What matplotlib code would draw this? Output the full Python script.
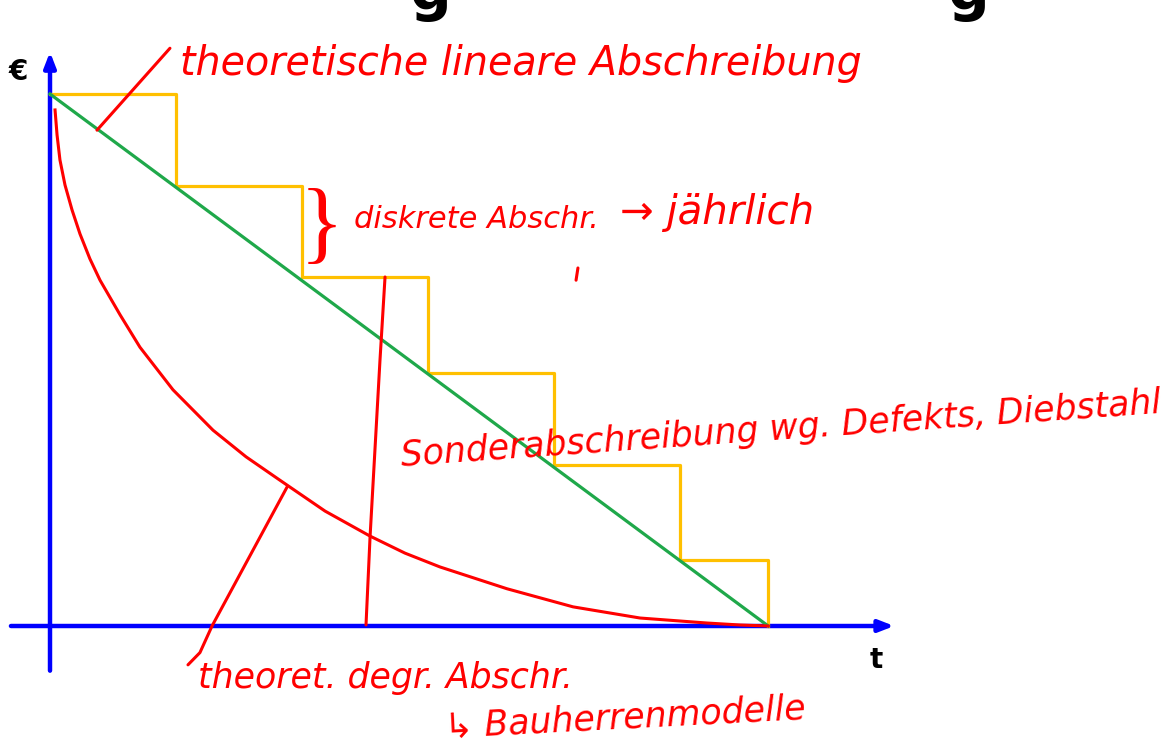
import matplotlib
matplotlib.use('Agg')
import matplotlib.pyplot as plt
import numpy as np

# Abschreibung: book value over time (years), value in % of purchase price
stair_t = [0, 1, 2, 3, 4, 5, 5.7]
stair_v = [100, 82.7, 65.6, 47.6, 30.3, 12.4, 0]

linear_t = [0, 5.7]
linear_v = [100, 0]

# theoretical degressive depreciation
degr_t = [0.040, 0.056, 0.079, 0.119, 0.175, 0.238, 0.317, 0.397, 0.556, 0.714, 0.976, 1.294,
          1.556, 1.825, 2.183, 2.540, 2.817, 3.095, 3.627, 4.151, 4.683, 5.214, 5.476, 5.700]
degr_v = [97.0, 92.3, 87.6, 82.9, 78.2, 73.7, 69.0, 65.0, 58.5, 52.4, 44.4, 36.8,
          31.8, 27.4, 21.6, 16.9, 13.7, 11.1, 7.0, 3.6, 1.5, 0.56, 0.19, 0.0]

# hand-drawn leader strokes (data coords)
lead_top_t = [0.373, 0.952]
lead_top_v = [93.2, 108.6]
lead_sonder_t = [2.659, 2.619, 2.540, 2.508]
lead_sonder_v = [65.6, 50.0, 16.7, 0.2]
lead_degr_t = [1.881, 1.286, 1.190, 1.095]
lead_degr_v = [26.1, 0.0, -5.0, -7.3]
tick_t = [4.19, 4.175]
tick_v = [67.3, 65.0]

W, H = 1166, 751
fig = plt.figure(figsize=(W / 100, H / 100), dpi=100)
ax = fig.add_axes([0, 0, 1, 1])
# map: t=0 -> x px 50, 1 year = 126 px ; v=0 -> y px 626, 1 unit = 5.32 px
ax.set_xlim(-50 / 126, (W - 50) / 126)
ax.set_ylim((626 - H) / 5.32, 626 / 5.32)
ax.axis('off')

def fx(x):
    return x / W

def fy(y):
    return 1 - y / H

RED = '#ff0000'
BLUE = '#0000ff'

# coordinate axes
ax.annotate('', xy=(6.70, 0), xytext=(-0.31, 0),
            arrowprops=dict(arrowstyle='-|>,head_length=0.9,head_width=0.35', color=BLUE, lw=3.2, shrinkA=0, shrinkB=0))
ax.annotate('', xy=(0, 107.9), xytext=(0, -8.4),
            arrowprops=dict(arrowstyle='-|>,head_length=0.9,head_width=0.35', color=BLUE, lw=3.2, shrinkA=0, shrinkB=0))
fig.text(fx(18), fy(72), '€', fontsize=20, fontweight='bold', ha='center', va='center')
fig.text(fx(876), fy(660), 't', fontsize=20, fontweight='bold', ha='center', va='center')

# curves
ax.step(stair_t, stair_v, where='post', color='#ffc000', lw=2.3, solid_joinstyle='round', zorder=3)
ax.plot(linear_t, linear_v, color='#1fa84a', lw=2.3, zorder=4)
ax.plot(degr_t, degr_v, color=RED, lw=2.2, solid_joinstyle='round', zorder=4)

# handwriting strokes
for tt, vv in [(lead_top_t, lead_top_v), (lead_sonder_t, lead_sonder_v),
               (lead_degr_t, lead_degr_v), (tick_t, tick_v)]:
    ax.plot(tt, vv, color=RED, lw=2.2, solid_capstyle='round', solid_joinstyle='round', zorder=5)

hand = dict(color=RED, fontstyle='italic', family='DejaVu Sans')
fig.text(fx(180), fy(75), 'theoretische lineare Abschreibung', fontsize=28.5, ha='left', va='baseline', **hand)
fig.text(fx(322), fy(230), '}', fontsize=66, ha='center', va='center', color=RED, family='Liberation Serif')
fig.text(fx(354), fy(228), 'diskrete Abschr.', fontsize=22, ha='left', va='baseline', **hand)
fig.text(fx(620), fy(224), '→ jährlich', fontsize=29, ha='left', va='baseline', **hand)
fig.text(fx(402), fy(466), 'Sonderabschreibung wg. Defekts, Diebstahl', fontsize=25, ha='left', va='baseline',
         rotation=4, rotation_mode='anchor', **hand)
fig.text(fx(198), fy(688), 'theoret. degr. Abschr.', fontsize=25, ha='left', va='baseline', **hand)
fig.text(fx(445), fy(737), '↳ Bauherrenmodelle', fontsize=25, ha='left', va='baseline', rotation=3,
         rotation_mode='anchor', **hand)

# cut-off slide title above
fig.text(fx(430), fy(10), 'g', fontsize=42, fontweight='bold', ha='center', va='baseline')
fig.text(fx(968), fy(10), 'g', fontsize=42, fontweight='bold', ha='center', va='baseline')

fig.savefig('out.png', dpi=100)
